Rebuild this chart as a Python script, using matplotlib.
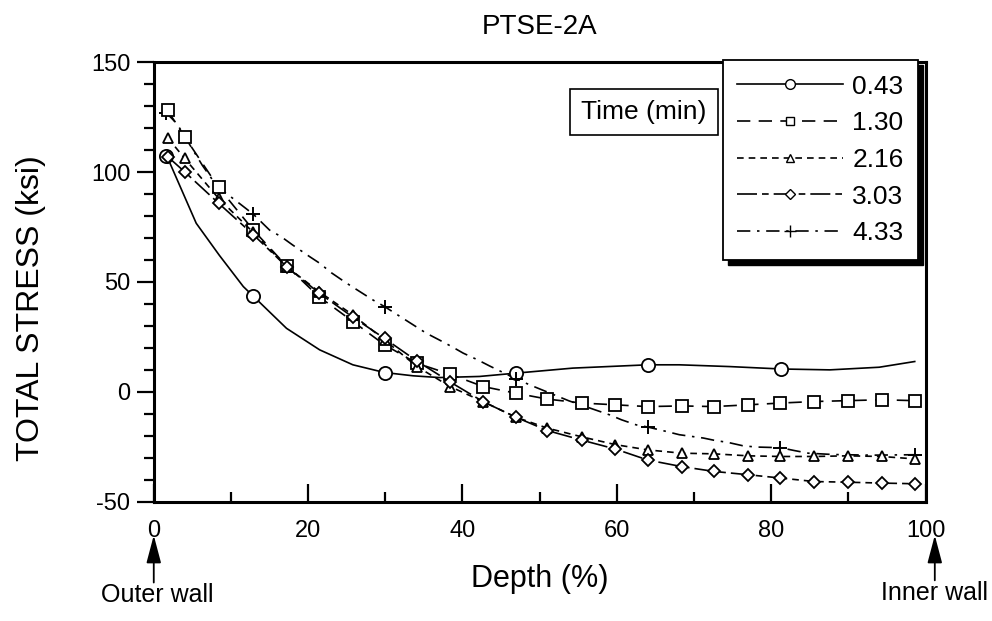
import matplotlib
matplotlib.use('Agg')
import matplotlib.pyplot as plt
from matplotlib.lines import Line2D
from matplotlib.patches import Rectangle
from matplotlib.transforms import IdentityTransform

# depth positions (%) shared by the 1.30 / 2.16 / 3.03 min series
depth = [1.8, 4.0, 8.4, 12.9, 17.2, 21.4, 25.8, 29.9, 34.1, 38.4, 42.7, 46.9,
         51.0, 55.5, 59.8, 64.0, 68.4, 72.6, 77.0, 81.2, 85.6, 89.9, 94.3, 98.6]

s130 = [128, 116, 93, 73.6, 57.3, 43.3, 32.0, 21.4, 13.0, 8.0, 2.4, -0.6,
        -3.3, -5.1, -5.9, -6.7, -6.4, -6.7, -5.9, -5.1, -4.4, -4.0, -3.6, -4.0]
s216 = [115.6, 106.2, 88, 72.5, 57, 45.6, 35.0, 23.6, 11.5, 2.4, -4.5, -11.5,
        -16.5, -20.5, -24.0, -26.4, -27.9, -28.2, -29.1, -29.4, -29.4, -29.1, -29.4, -30.5]
s303 = [107, 100.1, 85.8, 71.5, 57, 45, 34, 24.3, 14, 4.5, -4.5, -11.5,
        -17.6, -22.0, -26.0, -31.0, -34.0, -36.2, -37.7, -39.2, -40.8, -41.1, -41.5, -41.8]

# 0.43 min: markers and traced smooth curve
s043_x = [1.6, 12.9, 29.9, 46.9, 64.0, 81.3]
s043_y = [107.4, 43.5, 8.8, 8.5, 12.3, 10.4]
s043_cx = [1.6, 2.1, 5.5, 8.5, 11.6, 12.9, 17.2, 21.5, 25.8, 29.9, 33.6, 37.0,
           42.2, 46.9, 54.3, 64.0, 68.1, 74.6, 81.3, 87.6, 94.0, 98.6]
s043_cy = [107.4, 104, 76.7, 62.1, 47.9, 43.5, 28.9, 19.1, 12.3, 8.8, 7.3, 6.5,
           7.0, 8.5, 10.8, 12.3, 12.3, 11.5, 10.4, 10.0, 11.2, 13.8]

# 4.33 min: markers and traced smooth curve
s433_x = [1.6, 12.9, 29.9, 46.9, 64.0, 81.2, 98.6]
s433_y = [127, 80.8, 38.8, 6.0, -16.0, -25.4, -28.6]
s433_cx = [1.6, 3.0, 6.3, 8.1, 9.4, 11.1, 12.9, 15.0, 16.5, 18.0, 20.2, 21.5,
           23.0, 25.0, 26.7, 28.4, 29.9, 35.3, 37.0, 38.6, 40.1, 42.0, 43.5,
           46.9, 48.7, 53.8, 59.1, 60.6, 62.5, 64.0, 66.4, 68.1, 71.2, 72.7,
           74.4, 76.3, 78.0, 81.2, 83.0, 84.8, 88.0, 93.0, 98.6]
s433_cy = [127, 122, 103, 94, 90.3, 85.7, 80.8, 73.6, 70.6, 66.8, 61.5, 58.5,
           54.2, 49.4, 45.6, 41.8, 38.8, 26.7, 23.6, 20.6, 17.6, 14.5, 11.8,
           6.0, 3.2, -4.1, -10.5, -12.7, -15.0, -16.0, -18.0, -19.5, -21.0, -22.1,
           -23.0, -24.5, -25.1, -25.4, -26.7, -27.9, -28.5, -28.8, -28.6]

labels = ['0.43', '1.30', '2.16', '3.03', '4.33']

plt.rcParams['font.family'] = ['Liberation Sans', 'DejaVu Sans']
plt.rcParams['axes.unicode_minus'] = False

fig = plt.figure(figsize=(9.92, 6.21), dpi=100)
ax = fig.add_axes([0.155, 0.192, 0.778, 0.708])

lw = 1.2
d130 = (8, 5)
d216 = (4, 3)
d303 = (12, 3, 4, 3)
d433 = (8, 4, 1.5, 4)

ax.plot(s043_cx, s043_cy, color='k', lw=lw, zorder=2)
ax.plot(s043_x, s043_y, 'o', ms=9.5, mfc='white', mec='k', mew=1.3, zorder=3)

ax.plot(s433_cx, s433_cy, color='k', lw=lw, dashes=d433, zorder=2)
ax.plot(s433_x, s433_y, '+', ms=10, mec='k', mew=1.4, zorder=3)

ax.plot(depth, s130, color='k', lw=lw, dashes=d130, marker='s', ms=8.5,
        mfc='white', mec='k', mew=1.3, zorder=3)
ax.plot(depth, s216, color='k', lw=lw, dashes=d216, marker='^', ms=7.5,
        mfc='white', mec='k', mew=1.3, zorder=3)
ax.plot(depth, s303, color='k', lw=lw, dashes=d303, marker='D', ms=6,
        mfc='white', mec='k', mew=1.3, zorder=3)

ax.set_xlim(0, 100)
ax.set_ylim(-50, 150)
ax.set_xticks([0, 20, 40, 60, 80, 100])
ax.set_xticks([10, 30, 50, 70, 90], minor=True)
ax.set_yticks([-50, 0, 50, 100, 150])
ax.set_yticks(range(-40, 150, 10), minor=True)
for s in ax.spines.values():
    s.set_linewidth(2.2)
ax.tick_params(axis='x', which='major', direction='in', length=13, width=1.6,
               labelsize=17, pad=13)
ax.tick_params(axis='x', which='minor', direction='in', length=7, width=1.6)
ax.tick_params(axis='y', which='major', direction='out', length=12, width=1.6,
               labelsize=17, pad=5)
ax.tick_params(axis='y', which='minor', direction='out', length=7, width=1.6)

ax.set_ylabel('TOTAL STRESS (ksi)', fontsize=23)
ax.yaxis.set_label_coords(-0.14, 0.44)
ax.set_xlabel('Depth (%)', fontsize=22, labelpad=16)
ax.set_title('PTSE-2A', fontsize=20, pad=20)

# wall markers under the axis ends
fig.text(0.159, 0.022, 'Outer wall', fontsize=18, ha='center', va='bottom')
fig.text(0.942, 0.025, 'Inner wall', fontsize=18, ha='center', va='bottom')
ax.annotate('', xy=(0, -0.07), xycoords=('data', 'axes fraction'),
            xytext=(0, -0.19), textcoords=('data', 'axes fraction'),
            arrowprops=dict(arrowstyle='-|>,head_length=1.7,head_width=0.45',
                            color='k', lw=1.3))
ax.annotate('', xy=(101.2, -0.07), xycoords=('data', 'axes fraction'),
            xytext=(101.2, -0.185), textcoords=('data', 'axes fraction'),
            arrowprops=dict(arrowstyle='-|>,head_length=1.7,head_width=0.45',
                            color='k', lw=1.3))

# legend
handles = [
    Line2D([], [], color='k', lw=lw, marker='o', ms=7, mfc='white', mec='k'),
    Line2D([], [], color='k', lw=lw, dashes=d130, marker='s', ms=6, mfc='white', mec='k'),
    Line2D([], [], color='k', lw=lw, dashes=d216, marker='^', ms=6, mfc='white', mec='k'),
    Line2D([], [], color='k', lw=lw, dashes=d303, marker='D', ms=5, mfc='white', mec='k'),
    Line2D([], [], color='k', lw=lw, dashes=d433, marker='+', ms=8, mec='k'),
]
leg = ax.legend(handles, labels, loc='upper right', fontsize=19,
                bbox_to_anchor=(918 / 992, 1 - 60 / 621),
                bbox_transform=fig.transFigure, borderaxespad=0,
                handlelength=4.0, handletextpad=0.35, labelspacing=0.48,
                borderpad=0.55, fancybox=False, framealpha=1, edgecolor='k')
leg.get_frame().set_linewidth(1.3)
leg.set_zorder(6)

ax.text((566 + 722) / 2 / 992, 1 - 112 / 621, 'Time (min)', fontsize=19,
        ha='center', va='center', transform=fig.transFigure, zorder=5,
        bbox=dict(boxstyle='square,pad=0.42', fc='white', ec='k', lw=1.2))

fig.canvas.draw()
bb = leg.get_window_extent()
ax.add_patch(Rectangle((bb.x0 + 5, bb.y0 - 5), bb.width, bb.height,
                       transform=IdentityTransform(), fc='k', ec='k',
                       clip_on=False, zorder=5.5))

plt.savefig('out.png', dpi=100)
